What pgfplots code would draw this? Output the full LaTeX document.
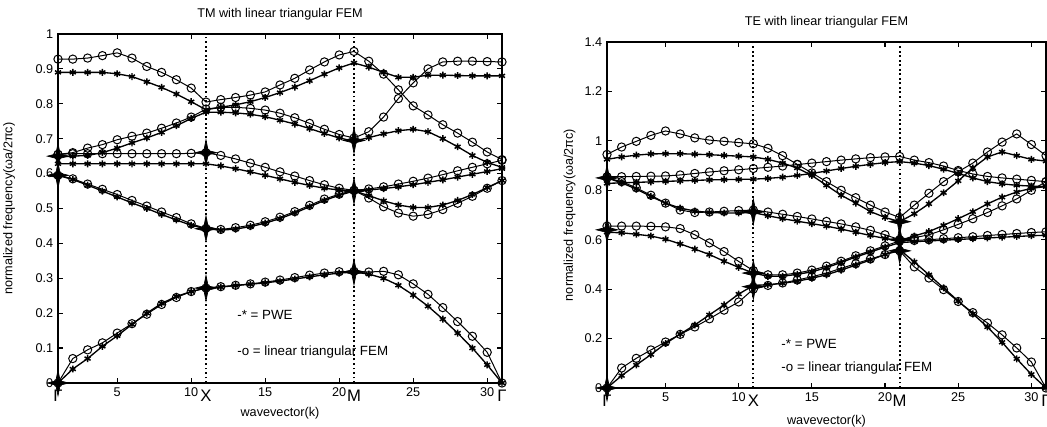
\documentclass[border=0pt]{standalone}
\usepackage{fontspec}
\setmainfont{Liberation Sans}
\usepackage{pgfplots}
\usepackage{pgfplotstable}
\pgfplotsset{compat=1.18}

\pgfdeclareplotmark{star4}{%
  \pgfpathmoveto{\pgfqpoint{0pt}{1.2\pgfplotmarksize}}%
  \pgfpathlineto{\pgfqpoint{0.2\pgfplotmarksize}{0.2\pgfplotmarksize}}%
  \pgfpathlineto{\pgfqpoint{\pgfplotmarksize}{0pt}}%
  \pgfpathlineto{\pgfqpoint{0.2\pgfplotmarksize}{-0.2\pgfplotmarksize}}%
  \pgfpathlineto{\pgfqpoint{0pt}{-1.2\pgfplotmarksize}}%
  \pgfpathlineto{\pgfqpoint{-0.2\pgfplotmarksize}{-0.2\pgfplotmarksize}}%
  \pgfpathlineto{\pgfqpoint{-\pgfplotmarksize}{0pt}}%
  \pgfpathlineto{\pgfqpoint{-0.2\pgfplotmarksize}{0.2\pgfplotmarksize}}%
  \pgfpathclose
  \pgfusepathqfillstroke
}

% TM: k, PWE bands p1..p5, FEM bands f1..f5
\pgfplotstableread{
k  p1    p2    p3    p4    p5    f1    f2    f3    f4    f5
1  0     0.595 0.628 0.648 0.89  0     0.595 0.655 0.655 0.928
2  0.04  0.583 0.628 0.65  0.89  0.07  0.585 0.657 0.66  0.928
3  0.07  0.567 0.628 0.652 0.89  0.095 0.57  0.657 0.673 0.931
4  0.105 0.55  0.628 0.66  0.89  0.115 0.555 0.657 0.683 0.938
5  0.135 0.533 0.628 0.673 0.886 0.143 0.54  0.657 0.697 0.946
6  0.168 0.516 0.628 0.688 0.878 0.17  0.523 0.657 0.707 0.931
7  0.20  0.50  0.628 0.702 0.863 0.197 0.507 0.657 0.716 0.907
8  0.228 0.483 0.628 0.718 0.847 0.225 0.49  0.657 0.73  0.89
9  0.248 0.467 0.628 0.737 0.828 0.245 0.474 0.657 0.745 0.869
10 0.262 0.452 0.628 0.758 0.806 0.262 0.456 0.658 0.762 0.845
11 0.272 0.442 0.628 0.776 0.783 0.272 0.443 0.66  0.785 0.805
12 0.275 0.438 0.622 0.776 0.79  0.276 0.440 0.652 0.79  0.812
13 0.279 0.441 0.614 0.774 0.797 0.280 0.445 0.642 0.79  0.818
14 0.283 0.448 0.605 0.77  0.806 0.284 0.452 0.63  0.787 0.825
15 0.287 0.458 0.595 0.763 0.818 0.289 0.462 0.618 0.782 0.834
16 0.292 0.471 0.585 0.753 0.832 0.295 0.475 0.605 0.773 0.854
17 0.298 0.487 0.575 0.742 0.848 0.302 0.491 0.593 0.76  0.873
18 0.304 0.505 0.566 0.729 0.866 0.309 0.509 0.58  0.744 0.897
19 0.310 0.523 0.558 0.715 0.885 0.315 0.527 0.568 0.727 0.92
20 0.315 0.538 0.553 0.702 0.903 0.319 0.541 0.558 0.712 0.94
21 0.318 0.55  0.55  0.693 0.917 0.32  0.552 0.552 0.702 0.95
22 0.312 0.537 0.553 0.703 0.905 0.318 0.53  0.556 0.72  0.922
23 0.30  0.522 0.557 0.714 0.89  0.32  0.505 0.562 0.762 0.885
24 0.28  0.51  0.562 0.723 0.876 0.31  0.487 0.57  0.815 0.84
25 0.252 0.503 0.568 0.727 0.876 0.284 0.478 0.578 0.86  0.794
26 0.22  0.503 0.575 0.72  0.882 0.254 0.483 0.587 0.90  0.768
27 0.183 0.51  0.582 0.70  0.882 0.216 0.497 0.597 0.92  0.74
28 0.143 0.523 0.59  0.677 0.881 0.176 0.515 0.608 0.922 0.716
29 0.10  0.54  0.598 0.652 0.88  0.134 0.535 0.618 0.922 0.69
30 0.052 0.56  0.606 0.632 0.88  0.088 0.558 0.628 0.921 0.662
31 0     0.58  0.614 0.618 0.88  0     0.58  0.638 0.92  0.64
}\tmdata

% TE: k, PWE bands p1..p5, FEM bands f1..f5
\pgfplotstableread{
k  p1    p2    p3    p4    p5    f1    f2    f3    f4    f5
1  0     0.63  0.85  0.828 0.925 0     0.655 0.85  0.855 0.945
2  0.05  0.628 0.83  0.83  0.935 0.081 0.655 0.835 0.855 0.975
3  0.093 0.622 0.805 0.832 0.942 0.12  0.655 0.81  0.856 0.998
4  0.135 0.615 0.775 0.834 0.947 0.154 0.654 0.78  0.857 1.022
5  0.18  0.602 0.748 0.836 0.948 0.186 0.652 0.748 0.858 1.04
6  0.218 0.583 0.728 0.838 0.948 0.217 0.645 0.72  0.862 1.028
7  0.255 0.562 0.716 0.84  0.946 0.247 0.62  0.71  0.868 1.012
8  0.296 0.54  0.71  0.842 0.944 0.28  0.587 0.712 0.874 1.003
9  0.336 0.513 0.708 0.843 0.941 0.315 0.552 0.715 0.879 0.998
10 0.38  0.488 0.708 0.844 0.938 0.348 0.512 0.718 0.883 0.993
11 0.415 0.465 0.71  0.845 0.935 0.40  0.475 0.72  0.888 0.988
12 0.418 0.452 0.697 0.848 0.925 0.415 0.458 0.712 0.893 0.97
13 0.424 0.452 0.685 0.853 0.91  0.425 0.458 0.703 0.898 0.94
14 0.432 0.46  0.675 0.86  0.89  0.437 0.465 0.694 0.904 0.905
15 0.444 0.47  0.665 0.868 0.86  0.45  0.477 0.684 0.91  0.87
16 0.458 0.487 0.655 0.878 0.82  0.465 0.493 0.674 0.916 0.835
17 0.477 0.508 0.643 0.888 0.78  0.484 0.513 0.664 0.922 0.80
18 0.497 0.53  0.63  0.897 0.748 0.503 0.535 0.652 0.927 0.77
19 0.518 0.55  0.617 0.905 0.714 0.522 0.555 0.638 0.932 0.74
20 0.54  0.57  0.605 0.912 0.69  0.54  0.575 0.62  0.935 0.712
21 0.56  0.588 0.597 0.916 0.673 0.555 0.595 0.60  0.937 0.69
22 0.51  0.592 0.615 0.91  0.705 0.49  0.597 0.608 0.922 0.74
23 0.458 0.595 0.633 0.9   0.745 0.445 0.6   0.62  0.912 0.788
24 0.405 0.598 0.658 0.885 0.79  0.398 0.604 0.64  0.898 0.835
25 0.352 0.601 0.685 0.868 0.838 0.35  0.608 0.662 0.88  0.875
26 0.3   0.604 0.713 0.85  0.89  0.305 0.612 0.685 0.866 0.91
27 0.247 0.607 0.745 0.835 0.935 0.263 0.617 0.71  0.856 0.955
28 0.185 0.61  0.772 0.826 0.955 0.215 0.621 0.737 0.85  0.995
29 0.118 0.613 0.793 0.82  0.94  0.162 0.625 0.765 0.845 1.028
30 0.055 0.616 0.808 0.817 0.925 0.105 0.629 0.8   0.84  0.985
31 0     0.618 0.815 0.815 0.918 0     0.632 0.835 0.835 0.94
}\tedata

% symmetry-point markers
\pgfplotstableread{
k  tm    te
1  0     0
1  0.595 0.64
1  0.65  0.85
11 0.272 0.41
11 0.442 0.465
11 0.66  0.713
21 0.318 0.555
21 0.55  0.60
21 0.695 0.673
}\sympts

\pgfplotsset{
  bandaxis/.style={
    scale only axis, xmin=1, xmax=31, ymin=0,
    xtick={5,10,15,20,25,30},
    tick align=inside, major tick length=3.5pt,
    axis line style={line width=1.2pt},
    every tick/.style={black, line width=0.9pt},
    tick label style={font=\fontsize{9.5}{10}\selectfont},
    /pgf/number format/assume math mode=true,
    extra x ticks={1,11,21,31},
    extra x tick labels={Γ,X,M,Γ},
    extra x tick style={major tick length=0pt,
      tick label style={font=\fontsize{12.5}{12}\selectfont, yshift=-1.5pt}},
    title style={font=\fontsize{9.5}{10}\selectfont, at={(0.5,1)}, anchor=south, yshift=1pt},
    xlabel style={font=\fontsize{9.5}{10}\selectfont, anchor=center},
    ylabel style={font=\fontsize{9.5}{10}\selectfont, anchor=center, rotate=0},
  },
  pwe/.style={black, line width=1pt, mark=asterisk, mark size=2.6pt,
    mark options={line width=1.1pt}},
  fem/.style={black, line width=0.75pt, mark=o, mark size=3.1pt,
    mark options={line width=0.75pt}},
  sym/.style={only marks, mark=star4, mark size=8pt,
    mark options={fill=black, draw=black, line width=0.5pt}},
  vline/.style={black, dotted, line width=1.4pt},
}

\begin{document}
\begin{tikzpicture}
\useasboundingbox (0,0) rectangle (785.25pt,320.25pt);

% ---------------- TM ----------------
\begin{axis}[bandaxis,
  at={(43.5pt,33pt)}, anchor=south west,
  width=333pt, height=261.75pt,
  ymax=1,
  ytick={0,0.1,0.2,0.3,0.4,0.5,0.6,0.7,0.8,0.9,1},
  yticklabels={0,0.1,0.2,0.3,0.4,0.5,0.6,0.7,0.8,0.9,1},
  title={TM with linear triangular FEM},
  xlabel={wavevector(k)},
  xlabel style={at={(axis description cs:0.5,-0.088)}},
  ylabel={normalized frequency(ωa/2πc)},
  ylabel style={at={(axis description cs:-0.11,0.5)}},
]
\addplot[vline] coordinates {(11,0) (11,1)};
\addplot[vline] coordinates {(21,0) (21,1)};
\addplot[fem] table[x=k, y=f1] {\tmdata};
\addplot[fem] table[x=k, y=f2] {\tmdata};
\addplot[fem] table[x=k, y=f3] {\tmdata};
\addplot[fem] table[x=k, y=f4] {\tmdata};
\addplot[fem] table[x=k, y=f5] {\tmdata};
\addplot[pwe] table[x=k, y=p1] {\tmdata};
\addplot[pwe] table[x=k, y=p2] {\tmdata};
\addplot[pwe] table[x=k, y=p3] {\tmdata};
\addplot[pwe] table[x=k, y=p4] {\tmdata};
\addplot[pwe] table[x=k, y=p5] {\tmdata};
\addplot[sym] table[x=k, y=tm] {\sympts};
\node[anchor=west, font=\fontsize{10}{10}\selectfont] at (axis cs:12.8,0.196) {-* = PWE};
\node[anchor=west, font=\fontsize{10}{10}\selectfont] at (axis cs:12.8,0.09) {-o = linear triangular FEM};
\end{axis}

% ---------------- TE ----------------
\begin{axis}[bandaxis,
  at={(455.25pt,29.25pt)}, anchor=south west,
  width=329.25pt, height=259.5pt,
  ymax=1.4,
  ytick={0,0.2,0.4,0.6,0.8,1,1.2,1.4},
  yticklabels={0,0.2,0.4,0.6,0.8,1,1.2,1.4},
  title={TE with linear triangular FEM},
  xlabel={wavevector(k)},
  xlabel style={at={(axis description cs:0.5,-0.095)}},
  ylabel={normalized frequency(ωa/2πc)},
  ylabel style={at={(axis description cs:-0.085,0.5)}},
]
\addplot[vline] coordinates {(11,0) (11,1.4)};
\addplot[vline] coordinates {(21,0) (21,1.4)};
\addplot[fem] table[x=k, y=f1] {\tedata};
\addplot[fem] table[x=k, y=f2] {\tedata};
\addplot[fem] table[x=k, y=f3] {\tedata};
\addplot[fem] table[x=k, y=f4] {\tedata};
\addplot[fem] table[x=k, y=f5] {\tedata};
\addplot[pwe] table[x=k, y=p1] {\tedata};
\addplot[pwe] table[x=k, y=p2] {\tedata};
\addplot[pwe] table[x=k, y=p3] {\tedata};
\addplot[pwe] table[x=k, y=p4] {\tedata};
\addplot[pwe] table[x=k, y=p5] {\tedata};
\addplot[sym] table[x=k, y=te] {\sympts};
\node[anchor=west, font=\fontsize{10}{10}\selectfont] at (axis cs:12.6,0.18) {-* = PWE};
\node[anchor=west, font=\fontsize{10}{10}\selectfont] at (axis cs:12.6,0.08) {-o = linear triangular FEM};
\end{axis}
\end{tikzpicture}
\end{document}
